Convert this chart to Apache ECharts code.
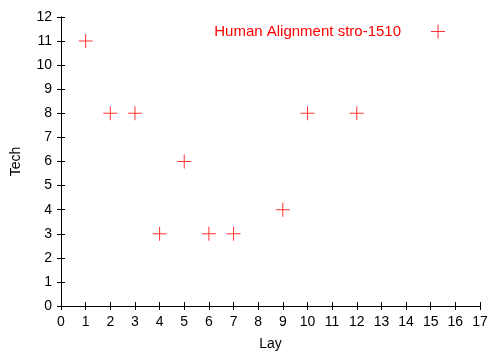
<!DOCTYPE html>
<html>
<head>
<meta charset="utf-8">
<script src="https://cdn.jsdelivr.net/npm/echarts@6/dist/echarts.min.js"></script>
<style>
  html, body { margin: 0; padding: 0; background: #fff; }
  #main { width: 488px; height: 351px; }
</style>
</head>
<body>
<div id="main"></div>
<script>
// data
var layValues = [1, 2, 3, 4, 5, 6, 7, 9, 10, 12];
var techValues = [11, 8, 8, 3, 6, 3, 3, 4, 8, 8];
var seriesName = 'Human Alignment stro-1510';

var points = layValues.map(function (x, i) { return [x, techValues[i]]; });

// plus marker (gnuplot style)
var plusPath = 'path://M0,6.5H14V7.5H0Z M6.5,0H7.5V14H6.5Z';

var font = '"Liberation Sans", Arial, Helvetica, sans-serif';
var axisCommon = {
  axisLine: { show: true, lineStyle: { color: '#000', width: 1 } },
  axisTick: { show: true, inside: true, length: 4, lineStyle: { color: '#000' } },
  splitLine: { show: false }
};

var chart = echarts.init(document.getElementById('main'));
chart.setOption({
  animation: false,
  grid: { left: 61, right: 8, top: 17, bottom: 45, outerBoundsMode: 'none', containLabel: false },
  legend: {
    right: 38,
    top: 19,
    align: 'right',
    itemWidth: 14,
    itemHeight: 14,
    icon: plusPath,
    data: [seriesName],
    textStyle: { color: '#ff0000', fontSize: 15, fontFamily: font, padding: [0, 25, 0, 0] }
  },
  xAxis: [
    Object.assign({
      type: 'value', min: 0, max: 17, interval: 1,
      name: 'Lay', nameLocation: 'middle', nameGap: 31,
      nameTextStyle: { color: '#000', fontSize: 14, fontFamily: font },
      axisLabel: { color: '#000', fontSize: 14, fontFamily: font, margin: 9 }
    }, axisCommon),
    Object.assign({
      type: 'value', min: 0, max: 17, interval: 1, position: 'top',
      axisLabel: { show: false }
    }, axisCommon)
  ],
  yAxis: [
    Object.assign({
      type: 'value', min: 0, max: 12, interval: 1,
      name: 'Tech', nameLocation: 'middle', nameGap: 38,
      nameTextStyle: { color: '#000', fontSize: 14, fontFamily: font },
      axisLabel: { color: '#000', fontSize: 14, fontFamily: font, margin: 9 }
    }, axisCommon),
    Object.assign({
      type: 'value', min: 0, max: 12, interval: 1, position: 'right',
      axisLabel: { show: false }
    }, axisCommon)
  ],
  series: [{
    name: seriesName,
    type: 'scatter',
    data: points,
    symbol: plusPath,
    symbolSize: 14,
    itemStyle: { color: '#ff0000' }
  }]
});
</script>
</body>
</html>
